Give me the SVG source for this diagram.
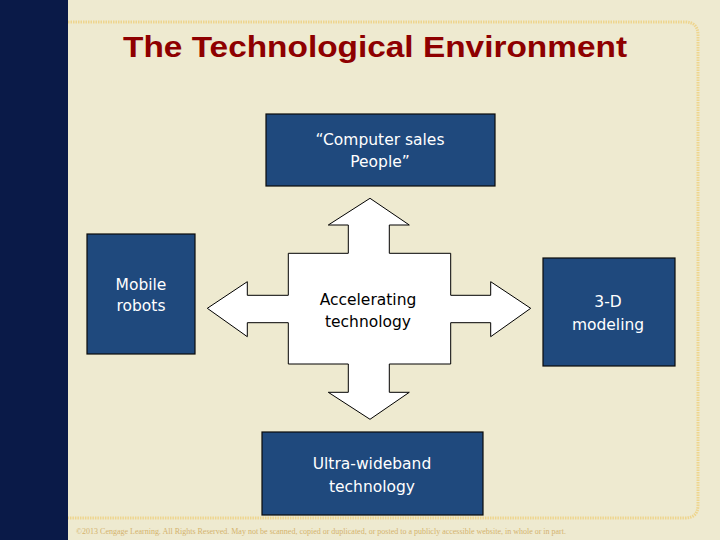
<svg xmlns="http://www.w3.org/2000/svg" width="720" height="540" viewBox="0 0 720 540">
  <style>
    .box { fill: #1F497D; stroke: #0a0a0a; stroke-width: 1.2; }
    .wt { fill: #ffffff; font-family: "DejaVu Sans", Verdana, sans-serif; font-size: 15.5px; text-anchor: middle; }
    .bt { fill: #000000; font-family: "DejaVu Sans", Verdana, sans-serif; font-size: 15.5px; text-anchor: middle; }
    .frame { fill: none; stroke: #EED58E; stroke-width: 3; stroke-dasharray: 1.5 1; }
  </style>
  <rect x="0" y="0" width="720" height="540" fill="#EEEAD0"/>
  <rect x="0" y="0" width="68" height="540" fill="#0A1A48"/>
  <path class="frame" d="M68 22 H685 Q698 22 698 35 V505 Q698 518 685 518 H68"/>
  <text x="375" y="57" fill="#8E0000" font-family="'Liberation Sans', Arial, sans-serif" font-weight="bold" font-size="30" text-anchor="middle" textLength="504" lengthAdjust="spacingAndGlyphs">The Technological Environment</text>

  <g id="connectors">
    <path d="M370 198.3 L409.3 225 L389.3 225 L389.3 253.3 L450.7 253.3 L450.7 295.3 L490.7 295.3 L490.7 281.7 L530.7 308.3 L490.7 336.7 L490.7 322.7 L450.7 322.7 L450.7 364 L389.3 364 L389.3 392.3 L409.3 392.3 L370 419.3 L328.3 392.3 L348.3 392.3 L348.3 364 L288.3 364 L288.3 322.7 L247.3 322.7 L247.3 336.7 L207.3 308.3 L247.3 281.7 L247.3 295.3 L288.3 295.3 L288.3 253.3 L348.3 253.3 L348.3 225 L328.3 225 Z" fill="#ffffff" stroke="#000000" stroke-width="1"/>
  </g>

  <g id="hub">
    <text class="bt" x="368" y="305">Accelerating</text>
    <text class="bt" x="368" y="327">technology</text>
  </g>

  <g id="computer-sales">
    <rect class="box" x="266" y="114" width="229" height="72"/>
    <text class="wt" x="380" y="145">“Computer sales</text>
    <text class="wt" x="380" y="167">People”</text>
  </g>

  <g id="mobile-robots">
    <rect class="box" x="87" y="234" width="108" height="120"/>
    <text class="wt" x="141" y="290">Mobile</text>
    <text class="wt" x="141" y="311">robots</text>
  </g>

  <g id="modeling">
    <rect class="box" x="543" y="258" width="132" height="108"/>
    <text class="wt" x="608" y="307">3-D</text>
    <text class="wt" x="608" y="330">modeling</text>
  </g>

  <g id="ultra-wideband">
    <rect class="box" x="262" y="432" width="221" height="83"/>
    <text class="wt" x="372" y="469">Ultra-wideband</text>
    <text class="wt" x="372" y="492">technology</text>
  </g>

  <text x="76" y="534" fill="#D4B36E" font-family="'Liberation Serif', 'Times New Roman', serif" font-size="8" textLength="490" lengthAdjust="spacingAndGlyphs">©2013 Cengage Learning. All Rights Reserved. May not be scanned, copied or duplicated, or posted to a publicly accessible website, in whole or in part.</text>
</svg>
